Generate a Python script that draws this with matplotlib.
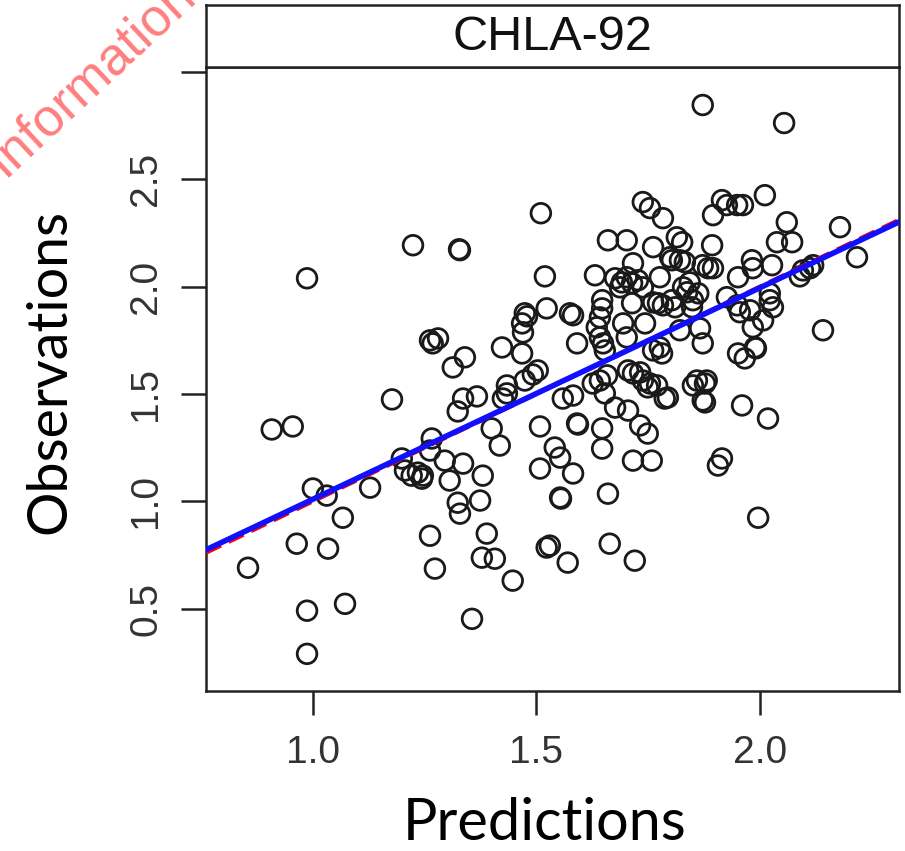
import numpy as np
import matplotlib.pyplot as plt

# data
panel_name = "CHLA-92"

predictions = [
    0.987, 1.224, 1.327, 1.329, 1.510, 1.519, 1.523, 1.474, 1.468, 1.470,
    1.479, 1.423, 1.468, 1.262, 1.280, 1.268, 1.340, 1.313, 1.503, 1.492,
    1.474, 1.434, 1.177, 0.908, 0.955, 1.336, 1.367, 1.324, 1.434, 1.425,
    1.508, 1.400, 1.418, 1.266, 1.262, 1.199, 1.206, 1.221, 1.235, 1.244,
    1.246, 1.295, 1.336, 1.306, 1.380, 1.508, 1.000, 1.031, 1.128, 1.324,
    1.329, 1.374, 1.067, 0.964, 1.034, 0.855, 1.262, 1.389, 1.378, 1.407,
    1.273, 1.447, 1.523, 0.987, 1.072, 1.356, 0.987, 1.559, 1.591, 1.593,
    1.647, 1.647, 1.541, 1.553, 1.582, 1.553, 1.555, 1.660, 1.716, 1.758,
    1.732, 1.749, 1.705, 1.676, 1.787, 1.877, 1.850, 1.877, 1.960, 2.018,
    1.915, 1.906, 1.996, 1.530, 1.570, 1.664, 1.720, 1.872, 2.054, 1.738,
    1.754, 1.783, 1.915, 1.926, 1.949, 1.962, 1.895, 2.011, 2.060, 2.038,
    2.072, 2.179, 2.217, 1.660, 1.702, 1.761, 1.814, 1.826, 1.832, 1.821,
    1.893, 1.716, 1.631, 1.676, 1.691, 1.702, 1.714, 1.727, 1.687, 1.738,
    1.776, 1.803, 1.828, 1.843, 1.837, 1.872, 1.884, 1.895, 1.951, 1.982,
    1.984, 2.027, 2.096, 2.112, 2.119, 2.089, 1.575, 1.582, 1.647, 1.647,
    1.642, 1.635, 1.642, 1.649, 1.653, 1.714, 1.694, 1.702, 1.743, 1.761,
    1.772, 1.783, 1.803, 1.810, 1.848, 1.926, 1.949, 1.955, 2.022, 2.022,
    2.029, 1.978, 1.984, 2.007, 1.989, 1.991, 1.951, 1.966, 1.591, 1.866,
    1.872, 1.821, 1.776, 1.781, 1.761, 2.141, 1.859, 1.881, 1.732, 1.738,
    1.754, 1.770, 1.705, 1.716, 1.658, 1.642, 1.626, 1.794, 1.749, 1.653,
    1.582, 1.872, 1.862, 1.850, 1.799,
]

observations = [
    2.039, 2.193, 2.174, 2.170, 2.342, 2.048, 1.899, 1.876, 1.829, 1.787,
    1.862, 1.717, 1.689, 1.750, 1.759, 1.736, 1.671, 1.624, 1.610, 1.591,
    1.563, 1.540, 1.475, 1.335, 1.349, 1.479, 1.489, 1.419, 1.503, 1.479,
    1.349, 1.340, 1.260, 1.293, 1.237, 1.200, 1.144, 1.120, 1.134, 1.106,
    1.120, 1.190, 1.176, 1.097, 1.120, 1.153, 1.060, 1.027, 1.064, 0.994,
    0.943, 1.004, 0.924, 0.803, 0.780, 0.691, 0.840, 0.850, 0.738, 0.733,
    0.687, 0.631, 0.785, 0.491, 0.523, 0.453, 0.290, 1.479, 1.363, 1.358,
    1.340, 1.246, 1.251, 1.204, 1.130, 1.018, 1.013, 1.036, 1.190, 1.190,
    1.354, 1.316, 1.423, 1.437, 1.479, 1.461, 1.540, 1.549, 1.447, 1.386,
    1.200, 1.167, 0.924, 0.794, 0.715, 0.803, 0.724, 2.846, 2.762, 2.394,
    2.366, 2.319, 2.403, 2.380, 2.380, 2.380, 2.333, 2.426, 2.300, 2.207,
    2.207, 2.277, 2.137, 2.216, 2.216, 2.184, 2.230, 2.207, 2.114, 2.123,
    2.193, 2.109, 2.053, 2.039, 2.020, 2.044, 2.016, 2.030, 1.997, 1.997,
    2.044, 2.123, 1.997, 2.020, 1.974, 2.100, 2.086, 2.086, 2.044, 2.123,
    2.086, 2.100, 2.076, 2.086, 2.100, 2.048, 1.876, 1.867, 1.937, 1.899,
    1.857, 1.811, 1.764, 1.736, 1.703, 1.923, 1.829, 1.764, 1.829, 1.927,
    1.923, 1.913, 1.937, 1.904, 1.904, 1.951, 1.913, 1.881, 1.969, 1.937,
    1.904, 1.890, 1.811, 1.843, 1.717, 1.713, 1.689, 1.666, 1.736, 1.806,
    1.736, 1.797, 1.717, 1.689, 1.703, 1.797, 1.563, 1.563, 1.601, 1.563,
    1.549, 1.540, 1.610, 1.596, 1.587, 1.563, 1.549, 1.484, 1.531, 1.503,
    1.493, 1.470, 1.969, 1.937, 2.137,
]

x_ticks = [1.0, 1.5, 2.0]
x_tick_labels = ["1.0", "1.5", "2.0"]
y_ticks = [0.5, 1.0, 1.5, 2.0, 2.5, 3.0]
y_tick_labels = ["0.5", "1.0", "1.5", "2.0", "2.5", ""]

# regression line (blue) and identity line (red dashed)
fit_slope, fit_intercept = 0.985, 0.025
ident_slope, ident_intercept = 1.0, 0.0

W, H = 905, 851
fig = plt.figure(figsize=(W / 100, H / 100), dpi=100)

ax = fig.add_axes([206 / W, 1 - 691 / H, (899 - 206) / W, (691 - 67) / H])
strip = fig.add_axes([206 / W, 1 - 67 / H, (899 - 206) / W, (67 - 5) / H])

axcol = '#222222'
ax.scatter(predictions, observations, s=200, facecolors='none',
           edgecolors='#1a1a1a', linewidths=2.0, zorder=2)
ax.axline((0, ident_intercept), slope=ident_slope, color='red', lw=3,
          ls=(0, (4, 2)), zorder=3)
ax.axline((0, fit_intercept), slope=fit_slope, color='#1010ff', lw=4,
          zorder=4)

ax.set_xlim(0.761, 2.311)
ax.set_ylim(0.117, 3.023)
ax.set_xticks(x_ticks)
ax.set_xticklabels(x_tick_labels, family='Liberation Sans', fontsize=28,
                   color='#333333')
ax.set_yticks(y_ticks)
ax.set_yticklabels(y_tick_labels, family='Liberation Sans', fontsize=28,
                   color='#333333', rotation=90, va='center')
ax.tick_params(axis='x', length=17, width=1.8, color=axcol, pad=15)
ax.tick_params(axis='y', length=18, width=1.8, color=axcol, pad=12)
for sp in ax.spines.values():
    sp.set_linewidth(1.8)
    sp.set_color(axcol)

# lattice-like strip
strip.set_xticks([])
strip.set_yticks([])
for sp in strip.spines.values():
    sp.set_linewidth(1.8)
    sp.set_color(axcol)
strip.text(0.5, 0.48, panel_name, ha='center', va='center',
           family='Liberation Sans', fontsize=35, color='#111111',
           transform=strip.transAxes)

# axis titles
fig.text(50 / W, 1 - 372 / H, 'Observations', rotation=90, ha='center',
         va='center', family='Lato', fontsize=40, color='black')
fig.text(545 / W, 1 - 824 / H, 'Predictions', ha='center', va='center',
         family='Lato', fontsize=41.5, color='black')

# watermark in the corner, running off the top edge as in the source
fig.text(4 / W, 1 - 178 / H, 'Information', rotation=43,
         rotation_mode='anchor', ha='left', va='baseline',
         family='Liberation Sans', fontsize=38, color='#ff7f7f')

fig.savefig('out.png', dpi=100)
